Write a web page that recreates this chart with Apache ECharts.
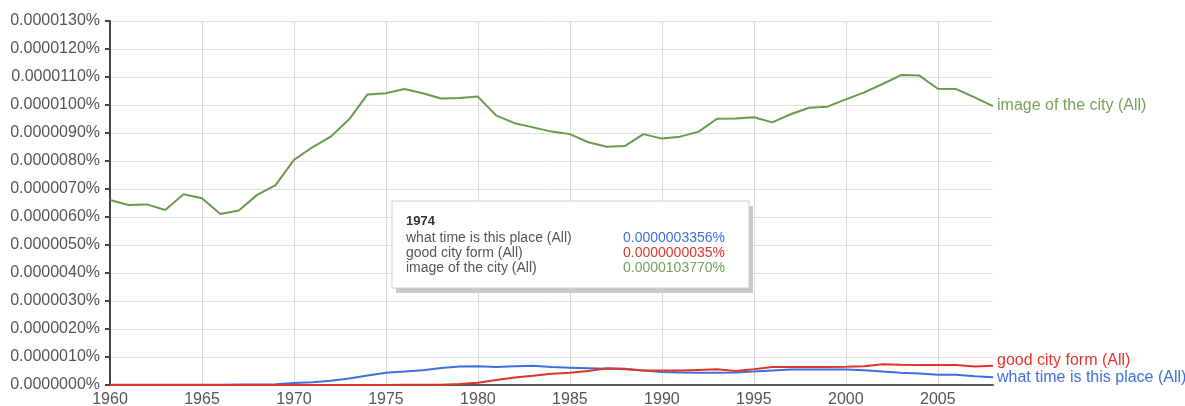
<!DOCTYPE html>
<html>
<head>
<meta charset="utf-8">
<script src="https://cdn.jsdelivr.net/npm/echarts@6/dist/echarts.min.js"></script>
<style>
html,body{margin:0;padding:0;background:#fff;}
#chart{width:1185px;height:406px;}
</style>
</head>
<body>
<div id="chart"></div>
<script>
const years = [1960,1961,1962,1963,1964,1965,1966,1967,1968,1969,1970,1971,1972,1973,1974,1975,1976,1977,1978,1979,1980,1981,1982,1983,1984,1985,1986,1987,1988,1989,1990,1991,1992,1993,1994,1995,1996,1997,1998,1999,2000,2001,2002,2003,2004,2005,2006,2007,2008];

const whatTimeName = 'what time is this place (All)';
const goodCityName = 'good city form (All)';
const imageCityName = 'image of the city (All)';

const whatTime = [1e-8,1e-8,1e-8,1e-8,1e-8,1e-8,1e-8,2e-8,2e-8,3e-8,7e-8,1.0e-7,1.5e-7,2.3e-7,3.356e-7,4.4e-7,4.8e-7,5.3e-7,6.1e-7,6.6e-7,6.7e-7,6.4e-7,6.7e-7,6.9e-7,6.4e-7,6.2e-7,6.0e-7,5.8e-7,5.6e-7,5.2e-7,4.6e-7,4.5e-7,4.4e-7,4.4e-7,4.5e-7,4.8e-7,5.2e-7,5.5e-7,5.5e-7,5.5e-7,5.5e-7,5.3e-7,4.8e-7,4.4e-7,4.1e-7,3.7e-7,3.7e-7,3.1e-7,2.8e-7];

const goodCity = [2e-9,2e-9,2e-9,2e-9,2e-9,2e-9,2e-9,2e-9,3e-9,3e-9,3e-9,3e-9,3e-9,3e-9,3.5e-9,4e-9,5e-9,6e-9,1e-8,4e-8,8e-8,1.8e-7,2.7e-7,3.3e-7,4.0e-7,4.4e-7,5.0e-7,6.0e-7,5.8e-7,5.2e-7,5.2e-7,5.2e-7,5.4e-7,5.6e-7,5.0e-7,5.6e-7,6.4e-7,6.4e-7,6.4e-7,6.4e-7,6.5e-7,6.7e-7,7.4e-7,7.2e-7,7.1e-7,7.1e-7,7.1e-7,6.6e-7,6.9e-7];

const imageCity = [6.61e-6,6.43e-6,6.45e-6,6.25e-6,6.81e-6,6.67e-6,6.11e-6,6.23e-6,6.79e-6,7.14e-6,8.04e-6,8.49e-6,8.87e-6,9.49e-6,1.0377e-5,1.042e-5,1.057e-5,1.042e-5,1.023e-5,1.025e-5,1.030e-5,9.62e-6,9.35e-6,9.20e-6,9.05e-6,8.96e-6,8.67e-6,8.51e-6,8.54e-6,8.96e-6,8.80e-6,8.87e-6,9.05e-6,9.51e-6,9.52e-6,9.56e-6,9.38e-6,9.67e-6,9.90e-6,9.94e-6,1.020e-5,1.045e-5,1.075e-5,1.107e-5,1.105e-5,1.058e-5,1.057e-5,1.027e-5,9.96e-6];

const yTickMax = 0.000013;
const yTickStep = 0.000001;
const tipYear = 1974;

const colBlue = '#3d6fe0';
const colRed = '#e0352b';
const colGreen = '#6a9a4e';
const colGreenText = '#76a05a';
const FONT = '"Liberation Sans", Arial, sans-serif';

const chart = echarts.init(document.getElementById('chart'), null, {renderer: 'canvas'});

const every5 = (i, v) => Number(v) % 5 === 0;

function mkSeries(name, data, color, textColor, offset) {
  return {
    name: name,
    type: 'line',
    data: data,
    symbol: 'none',
    showSymbol: false,
    smooth: false,
    lineStyle: {color: color, width: 2},
    itemStyle: {color: color},
    emphasis: {disabled: true},
    animation: false,
    endLabel: {
      show: true,
      formatter: name,
      color: textColor,
      fontSize: 16,
      fontFamily: FONT,
      distance: 4,
      offset: offset
    }
  };
}

const ti = years.indexOf(tipYear);
const fmt = v => v.toFixed(10) + '%';
const tipRows = [
  [whatTimeName, whatTime[ti], colBlue],
  [goodCityName, goodCity[ti], colRed],
  [imageCityName, imageCity[ti], colGreenText]
];
const boxX = 392, boxY = 201, boxW = 357, boxH = 87;
const graphics = [
  {type: 'rect', shape: {x: boxX + 4, y: boxY + 5, width: boxW, height: boxH}, style: {fill: '#c9c9c9'}, z: 100},
  {type: 'rect', shape: {x: boxX, y: boxY, width: boxW, height: boxH}, style: {fill: '#fff', stroke: '#d0d0d0', lineWidth: 1}, z: 101},
  {type: 'text', x: boxX + 14, y: 221, style: {text: String(tipYear), font: 'bold 13px ' + FONT, fill: '#333', verticalAlign: 'middle'}, z: 102}
];
tipRows.forEach((r, k) => {
  const yy = 238 + k * 15;
  graphics.push({type: 'text', x: boxX + 14, y: yy, style: {text: r[0], font: '14px ' + FONT, fill: '#555', verticalAlign: 'middle'}, z: 102});
  graphics.push({type: 'text', x: 725, y: yy, style: {text: fmt(r[1]), font: '14px ' + FONT, fill: r[2], align: 'right', verticalAlign: 'middle'}, z: 102});
});

chart.setOption({
  animation: false,
  backgroundColor: '#fff',
  grid: {left: 110, right: 192, top: 21, bottom: 21, containLabel: false, outerBoundsMode: 'none'},
  xAxis: {
    type: 'category',
    data: years.map(String),
    boundaryGap: false,
    axisLine: {show: true, lineStyle: {color: '#555', width: 2}},
    axisTick: {show: false},
    axisLabel: {interval: every5, color: '#555', fontSize: 16, fontFamily: FONT, margin: 7},
    splitLine: {show: true, interval: every5, lineStyle: {color: '#d8d8d8', width: 1}}
  },
  yAxis: {
    type: 'value',
    min: 0,
    max: yTickMax,
    interval: yTickStep,
    axisLine: {show: true, lineStyle: {color: '#444', width: 2}},
    axisTick: {show: true, length: 5, lineStyle: {color: '#444', width: 2}},
    axisLabel: {color: '#555', fontSize: 16, fontFamily: FONT, margin: 10, formatter: v => v.toFixed(7) + '%'},
    splitLine: {show: true, lineStyle: {color: '#e0e0e0', width: 1}}
  },
  series: [
    mkSeries(whatTimeName, whatTime, colBlue, colBlue, [0, 0]),
    mkSeries(goodCityName, goodCity, colRed, colRed, [0, -5]),
    mkSeries(imageCityName, imageCity, colGreen, colGreenText, [0, -1])
  ],
  graphic: graphics
});
</script>
</body>
</html>
